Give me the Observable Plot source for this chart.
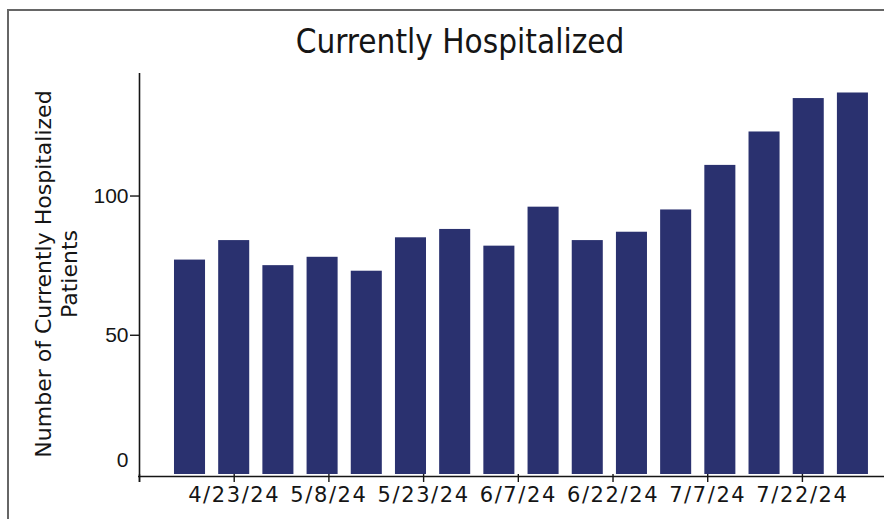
<!DOCTYPE html>
<html>
<head>
<meta charset="utf-8">
<script src="https://cdn.jsdelivr.net/npm/d3@7"></script>
<script src="https://cdn.jsdelivr.net/npm/@observablehq/plot@0.6"></script>
<style>
  html, body { margin: 0; padding: 0; background: #fff; }
  #wrap { position: relative; width: 884px; height: 519px; overflow: hidden; background: #fff; }
  #frame { position: absolute; left: 7px; top: 9px; width: 900px; height: 600px;
           border-top: 2px solid #666; border-left: 2px solid #666; pointer-events: none; }
  #title { height: 60px; width: 920px; text-align: center; font-family: "DejaVu Sans Condensed", "DejaVu Sans", sans-serif;
           font-size: 33px; line-height: 84px; color: #151515; white-space: nowrap; }
  #chart svg { display: block; }
  #chart svg g[aria-label="x-axis tick label"] text { letter-spacing: 1.6px; }
</style>
</head>
<body>
<div id="wrap">
  <div id="title">Currently Hospitalized</div>
  <div id="chart"></div>
  <div id="frame"></div>
</div>
<script>
// Data
const weekDates = ["2024-04-16","2024-04-23","2024-04-30","2024-05-07","2024-05-14","2024-05-21","2024-05-28","2024-06-04",
                   "2024-06-11","2024-06-18","2024-06-25","2024-07-02","2024-07-09","2024-07-16","2024-07-23","2024-07-30"];
const patients = [77, 84, 75, 78, 73, 85, 88, 82, 96, 84, 87, 95, 111, 123, 135, 137];
const xTickDates = ["2024-04-08","2024-04-23","2024-05-08","2024-05-23","2024-06-07","2024-06-22","2024-07-07","2024-07-22"];
const xTickLabels = ["", "4/23/24", "5/8/24", "5/23/24", "6/7/24", "6/22/24", "7/7/24", "7/22/24"];
const yTicks = [50, 100];
const yZeroLabel = [0];
const yTitle = "Number of Currently Hospitalized\nPatients";

const rows = weekDates.map((d, i) => ({date: new Date(d), value: patients[i]}));
const xTicks = xTickDates.map(d => new Date(d));
const xStart = new Date("2024-04-08");
const xEnd = new Date("2024-08-04");
const halfHours = 59;

const ink = "#151515";
const chart = Plot.plot({
  width: 884,
  height: 459,
  marginLeft: 139,
  marginRight: 0,
  marginTop: 13,
  marginBottom: 45,
  style: {fontFamily: "DejaVu Sans, sans-serif", color: ink, background: "transparent"},
  x: {type: "utc", domain: [xStart, xEnd]},
  y: {domain: [0, 144]},
  marks: [
    Plot.rectY(rows, {
      x1: d => d3.utcHour.offset(d.date, -halfHours),
      x2: d => d3.utcHour.offset(d.date, halfHours),
      y1: 0,
      y2: "value",
      fill: "#2a316f"
    }),
    Plot.ruleY([0], {dy: 2, stroke: ink, strokeWidth: 1.6, insetLeft: -1}),
    Plot.ruleX([xStart], {stroke: ink, strokeWidth: 1.6, insetBottom: -8}),
    Plot.axisX({
      ticks: xTicks,
      tickFormat: (d, i) => xTickLabels[i],
      tickSize: 8,
      tickPadding: 5,
      fontSize: 21,
      stroke: ink,
      strokeWidth: 1.4,
      fill: ink,
      label: null
    }),
    Plot.axisY({
      ticks: yTicks,
      tickSize: 9,
      tickPadding: 2,
      fontSize: 21,
      stroke: ink,
      strokeWidth: 1.4,
      fill: ink,
      label: null,
      fontFamily: "Liberation Sans, Arial, sans-serif"
    }),
    Plot.text(yZeroLabel, {
      y: d => d,
      text: d => String(d),
      frameAnchor: "left",
      textAnchor: "end",
      dx: -11,
      dy: -14,
      fontSize: 21,
      fill: ink,
      fontFamily: "Liberation Sans, Arial, sans-serif"
    }),
    Plot.text([yTitle], {
      frameAnchor: "left",
      textAnchor: "middle",
      lineAnchor: "middle",
      rotate: -90,
      dx: -84,
      fontSize: 22,
      lineHeight: 1.18,
      fill: ink
    })
  ]
});
document.getElementById("chart").appendChild(chart);
</script>
</body>
</html>
